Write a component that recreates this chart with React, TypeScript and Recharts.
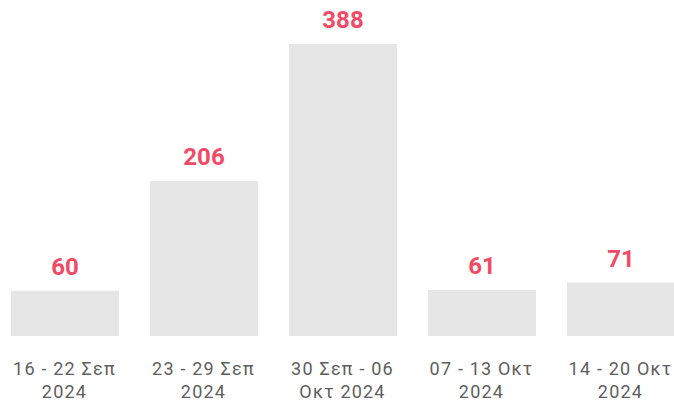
import React from 'react';
import { BarChart, Bar, XAxis, YAxis, LabelList } from 'recharts';

const weeks = ['16 - 22 Σεπ', '23 - 29 Σεπ', '30 Σεπ - 06', '07 - 13 Οκτ', '14 - 20 Οκτ'];
const secondLines = ['2024', '2024', 'Οκτ 2024', '2024', '2024'];
const counts = [60, 206, 388, 61, 71];

const data = weeks.map((w, i) => ({ name: w, line2: secondLines[i], value: counts[i] }));

const WeekTick = (props: any) => {
  const { x, y, index } = props;
  return (
    <text
      x={x}
      y={y}
      textAnchor="middle"
      fill="#5e5e5e"
      fontSize={18}
      letterSpacing={1.2}
      fontFamily="Roboto, sans-serif"
    >
      <tspan x={x} dy={39}>{weeks[index]}</tspan>
      <tspan x={x} dy={23}>{secondLines[index]}</tspan>
    </text>
  );
};

const App: React.FC = () => {
  return (
    <div style={{ position: 'absolute', left: 0, top: 0, width: 674, height: 401, overflow: 'hidden' }}>
      <div style={{ marginLeft: -5.5 }}>
        <BarChart width={695} height={401} data={data} margin={{ top: 44, right: 0, bottom: 0, left: 0 }}>
          <XAxis
            dataKey="name"
            axisLine={false}
            tickLine={false}
            tickSize={0}
            tickMargin={0}
            height={65}
            interval={0}
            tick={<WeekTick />}
          />
          <YAxis hide domain={[0, 388]} />
          <Bar dataKey="value" fill="#e6e6e6" barSize={108} isAnimationActive={false}>
            <LabelList
              dataKey="value"
              position="top"
              offset={16}
              fill="#f24a66"
              fontSize={24}
              fontWeight="bold"
              fontFamily="Roboto, sans-serif"
            />
          </Bar>
        </BarChart>
      </div>
    </div>
  );
};

export default App;
